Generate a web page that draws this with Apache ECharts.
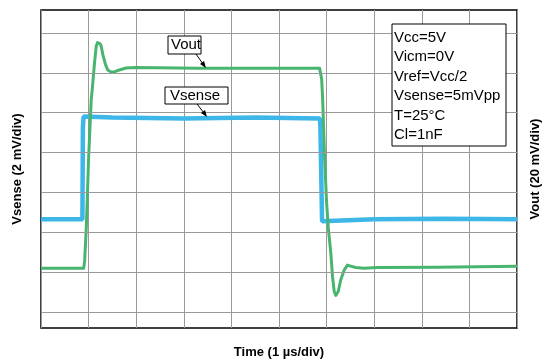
<!DOCTYPE html>
<html>
<head>
<meta charset="utf-8">
<script src="https://cdn.jsdelivr.net/npm/echarts@6/dist/echarts.min.js"></script>
<style>
  html, body { margin: 0; padding: 0; background: #fff; }
  #main { width: 550px; height: 364px; }
</style>
</head>
<body>
<div id="main"></div>
<script>
// time in µs (1 µs/div)
const senseTime = [0, 0.87, 0.88, 0.895, 0.92, 1.5, 3, 4.5, 5.86, 5.87, 5.905, 5.93, 7, 8.5, 10]
// Vsense in mV (2 mV/div)
const senseMv = [0, 0, 4.6, 5.15, 5.1, 5.1, 5.05, 5.1, 5.05, 4.6, -0.1, 0, 0, 0.02, 0]

const outTime = [0, 0.896, 0.917, 0.952, 1.0, 1.056, 1.077, 1.125, 1.16, 1.1875, 1.215, 1.24, 1.265, 1.298, 1.354, 1.402, 1.473, 1.542, 1.646, 1.785, 1.994, 3.31, 5.854,
  5.869, 5.896, 5.917, 5.958, 6.0, 6.035, 6.09, 6.125, 6.16, 6.194, 6.244, 6.298, 6.369, 6.4375, 6.506, 6.61, 6.785, 7.06, 8.31, 10]
// Vout in mV (20 mV/div)
const outMv = [0, 0, 3.7, 20.5, 55.2, 84.9, 89.8, 103.1, 111.3, 113.1, 113.4, 112.6, 111.3, 107.2, 102.2, 99.4, 98.4, 98.4, 99.4, 100.4, 100.6, 100.2, 100.2,
  100, 94.8, 84.9, 55.2, 32.9, 20.5, 7.3, -4.2, -11.6, -13.6, -11.6, -5.7, -0.9, 1.6, 1.1, 0.4, 0.1, 0.4, 0.6, 1.1]

// horizontal graticule lines, in divisions
const gridDivs = [0, 1, 2, 3, 4, 5, 6, 7]

const condText = ['Vcc=5V', 'Vicm=0V', 'Vref=Vcc/2', 'Vsense=5mVpp', 'T=25°C', 'Cl=1nF']

const zip = (a, b) => a.map((v, i) => [v, b[i]])

const chart = echarts.init(document.getElementById('main'))
const nameStyle = { fontFamily: 'Liberation Sans', fontWeight: 'bold', fontSize: 13, color: '#000' }
const gridColor = '#999'

// boxed label helper
function box (x, y, w, h, text, font, extra) {
  return [
    { type: 'rect', z: 100, shape: { x: x, y: y, width: w, height: h },
      style: { fill: '#fff', stroke: '#000', lineWidth: 1 } },
    Object.assign({ type: 'text', z: 101, x: x + 3, y: y + 1,
      style: { text: text, font: font, fill: '#000' } }, extra || {})
  ]
}

chart.setOption({
  animation: false,
  grid: {
    left: 41, right: 30, top: 10, bottom: 32,
    show: true, borderColor: '#000', borderWidth: 1.5, backgroundColor: '#fff'
  },
  xAxis: {
    type: 'value', min: 0, max: 10, interval: 1,
    name: 'Time (1 µs/div)', nameLocation: 'middle', nameGap: 18,
    nameTextStyle: nameStyle,
    axisLine: { show: false }, axisTick: { show: false }, axisLabel: { show: false },
    splitLine: { show: true, lineStyle: { color: gridColor, width: 1 } }
  },
  yAxis: [
    {
      type: 'value', min: -5.45, max: 10.49,
      name: 'Vsense (2 mV/div)', nameLocation: 'middle', nameGap: 17,
      nameTextStyle: nameStyle,
      axisLine: { show: false }, axisTick: { show: false }, axisLabel: { show: false },
      splitLine: { show: false }
    },
    {
      type: 'value', min: -29.9, max: 129.45, position: 'right',
      name: 'Vout (20 mV/div)', nameLocation: 'middle', nameGap: 12,
      nameTextStyle: nameStyle,
      axisLine: { show: false }, axisTick: { show: false }, axisLabel: { show: false },
      splitLine: { show: false }
    },
    { type: 'value', min: -0.396, max: 7.574, show: false }
  ],
  series: [
    {
      type: 'line', yAxisIndex: 2, data: [], silent: true,
      markLine: {
        silent: true, symbol: 'none', label: { show: false },
        lineStyle: { color: gridColor, width: 1, type: 'solid' },
        data: gridDivs.map(v => ({ yAxis: v }))
      }
    },
    {
      name: 'Vsense', type: 'line', yAxisIndex: 0, showSymbol: false,
      data: zip(senseTime, senseMv),
      lineStyle: { color: '#3db6e8', width: 4.5 }
    },
    {
      name: 'Vout', type: 'line', yAxisIndex: 1, showSymbol: false,
      data: zip(outTime, outMv),
      lineStyle: { color: '#48b56f', width: 3, join: 'round' }
    }
  ],
  graphic: [].concat(
    box(392, 24, 114, 122, condText.join('\n'), '15px "Liberation Sans"', { x: 394, y: 28, style: { text: condText.join('\n'), font: '15px "Liberation Sans"', lineHeight: 19.5, fill: '#000' } }),
    box(168, 36, 33, 18, 'Vout', '15px "Liberation Sans"', { x: 171, y: 37 }),
    box(165, 87, 63, 17, 'Vsense', '15px "Liberation Sans"', { x: 170, y: 88 }),
    [
      { type: 'line', z: 100, shape: { x1: 196, y1: 54, x2: 203, y2: 64 }, style: { stroke: '#000', lineWidth: 1 } },
      { type: 'polygon', z: 100, shape: { points: [[206, 68], [200, 64], [204, 61]] }, style: { fill: '#000' } },
      { type: 'line', z: 100, shape: { x1: 197, y1: 104, x2: 204, y2: 113 }, style: { stroke: '#000', lineWidth: 1 } },
      { type: 'polygon', z: 100, shape: { points: [[207, 117], [201, 113], [205, 110]] }, style: { fill: '#000' } }
    ]
  )
})
</script>
</body>
</html>
